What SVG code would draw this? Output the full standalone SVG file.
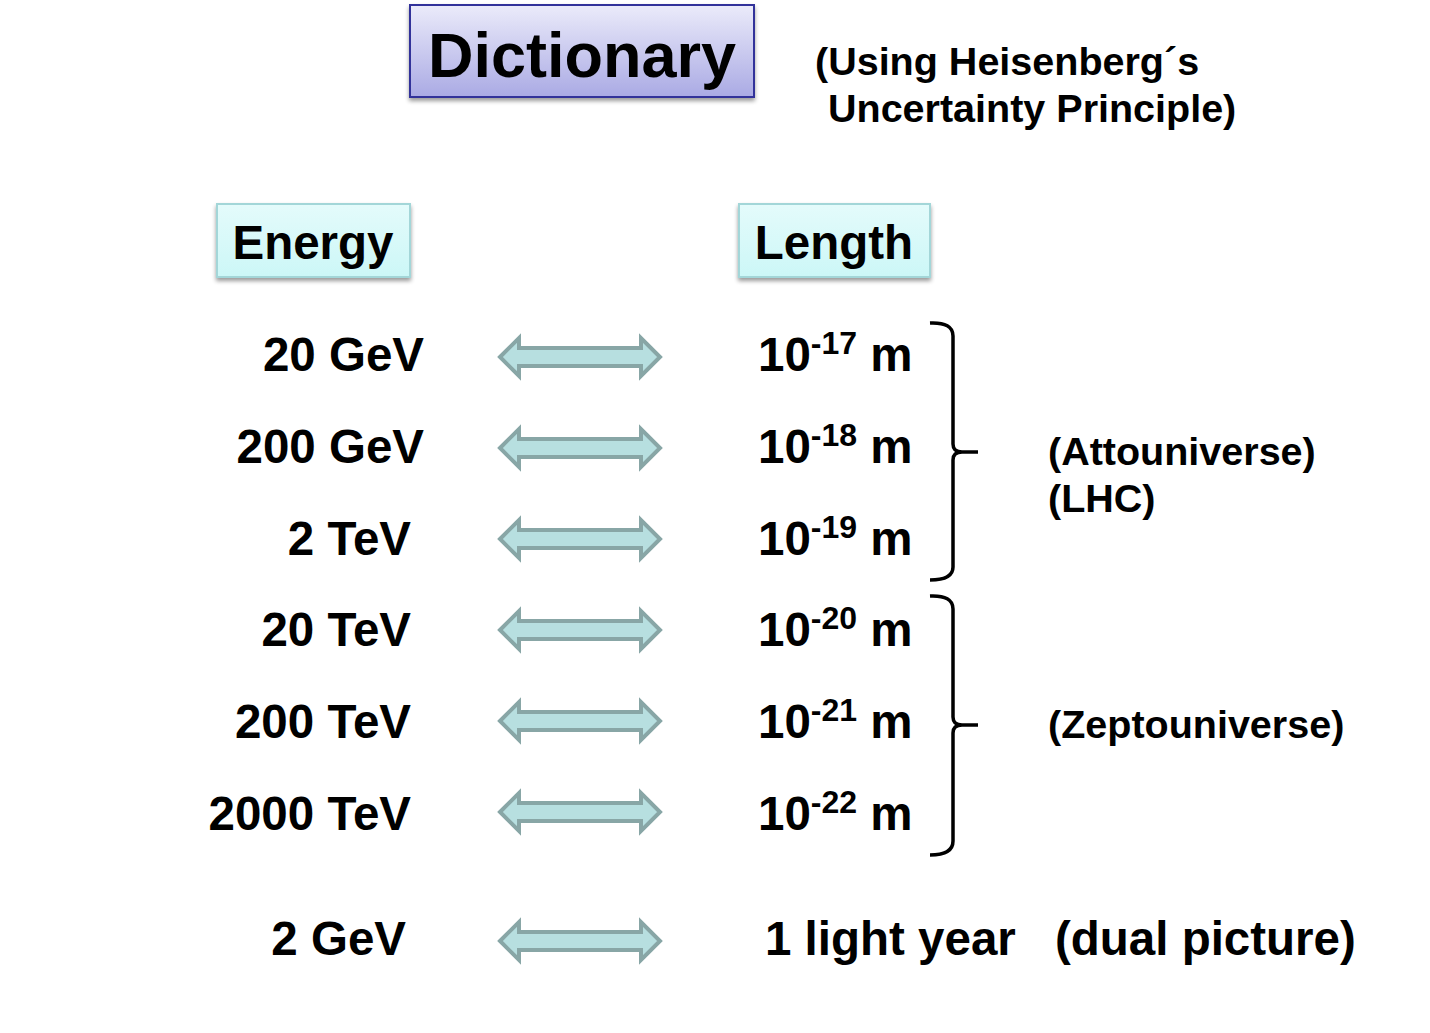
<svg xmlns="http://www.w3.org/2000/svg" width="1430" height="1033" viewBox="0 0 1430 1033">
<defs>
<linearGradient id="gDict" x1="0" y1="0" x2="0" y2="1">
<stop offset="0" stop-color="#ebebfa"/>
<stop offset="1" stop-color="#aaaae4"/>
</linearGradient>
<linearGradient id="gBox" x1="0" y1="0" x2="0" y2="1">
<stop offset="0" stop-color="#e4fbfb"/>
<stop offset="1" stop-color="#ccf7f7"/>
</linearGradient>
<filter id="sh" x="-10%" y="-10%" width="120%" height="130%">
<feGaussianBlur in="SourceAlpha" stdDeviation="2"/>
<feOffset dx="0" dy="3" result="b"/>
<feComponentTransfer><feFuncA type="linear" slope="0.4"/></feComponentTransfer>
<feMerge><feMergeNode/><feMergeNode in="SourceGraphic"/></feMerge>
</filter>
<path id="arr" d="M0,0 L19,-19 L19,-9 L141,-9 L141,-19 L160,0 L141,19 L141,9 L19,9 L19,19 Z"/>
</defs>
<style>
text{font-family:"Liberation Sans",Arial,sans-serif;font-weight:bold;fill:#000}
.big{font-size:47.5px}
.mid{font-size:39.5px}
.sup{font-size:32px}
.arrow{fill:#b7dfe0;stroke:#88a6a6;stroke-width:4;stroke-linejoin:miter}
.brace{fill:none;stroke:#000;stroke-width:3.5}
</style>
<rect width="1430" height="1033" fill="#fff"/>

<g id="dictionary">
<rect x="410" y="5" width="344" height="92" fill="url(#gDict)" stroke="#33339a" stroke-width="2" filter="url(#sh)"/>
<text x="582" y="77" font-size="63" text-anchor="middle">Dictionary</text>
</g>
<g id="note">
<text class="mid" x="815" y="75">(Using Heisenberg´s</text>
<text class="mid" x="828" y="122">Uncertainty Principle)</text>
</g>
<g id="energy">
<rect x="217" y="204" width="193" height="73" fill="url(#gBox)" stroke="#a3d6d8" stroke-width="2" filter="url(#sh)"/>
<text class="big" x="313" y="259" text-anchor="middle">Energy</text>
</g>
<g id="length">
<rect x="739" y="204" width="191" height="73" fill="url(#gBox)" stroke="#a3d6d8" stroke-width="2" filter="url(#sh)"/>
<text class="big" x="834" y="259" text-anchor="middle">Length</text>
</g>

<g id="energies">
<text class="big" x="424" y="371" text-anchor="end">20 GeV</text>
<text class="big" x="424" y="463" text-anchor="end">200 GeV</text>
<text class="big" x="411" y="555" text-anchor="end">2 TeV</text>
<text class="big" x="411" y="646" text-anchor="end">20 TeV</text>
<text class="big" x="411" y="738" text-anchor="end">200 TeV</text>
<text class="big" x="411" y="830" text-anchor="end">2000 TeV</text>
<text class="big" x="406" y="955" text-anchor="end">2 GeV</text>
</g>

<g id="lengths">
<text class="big" x="758" y="371">10<tspan class="sup" dy="-17">-17</tspan><tspan dy="17"> m</tspan></text>
<text class="big" x="758" y="463">10<tspan class="sup" dy="-17">-18</tspan><tspan dy="17"> m</tspan></text>
<text class="big" x="758" y="555">10<tspan class="sup" dy="-17">-19</tspan><tspan dy="17"> m</tspan></text>
<text class="big" x="758" y="646">10<tspan class="sup" dy="-17">-20</tspan><tspan dy="17"> m</tspan></text>
<text class="big" x="758" y="738">10<tspan class="sup" dy="-17">-21</tspan><tspan dy="17"> m</tspan></text>
<text class="big" x="758" y="830">10<tspan class="sup" dy="-17">-22</tspan><tspan dy="17"> m</tspan></text>
<text class="big" x="765" y="955">1 light year</text>
<text class="big" x="1055" y="955">(dual picture)</text>
</g>

<g id="connectors">
<use href="#arr" class="arrow" x="500" y="357"/>
<use href="#arr" class="arrow" x="500" y="448"/>
<use href="#arr" class="arrow" x="500" y="539"/>
<use href="#arr" class="arrow" x="500" y="630"/>
<use href="#arr" class="arrow" x="500" y="721"/>
<use href="#arr" class="arrow" x="500" y="812"/>
<use href="#arr" class="arrow" x="500" y="941"/>
</g>

<g id="brace-atto">
<path class="brace" d="M930,323 Q953,322 953,336 L953,444 Q953,452 962,452 L978,452 M962,452 Q953,452 953,460 L953,567 Q953,580 930,580"/>
<text class="mid" x="1048" y="465">(Attouniverse)</text>
<text class="mid" x="1048" y="512">(LHC)</text>
</g>
<g id="brace-zepto">
<path class="brace" d="M930,596 Q953,595 953,609 L953,717 Q953,725 962,725 L978,725 M962,725 Q953,725 953,733 L953,841 Q953,855 930,855"/>
<text class="mid" x="1048" y="738">(Zeptouniverse)</text>
</g>
</svg>
